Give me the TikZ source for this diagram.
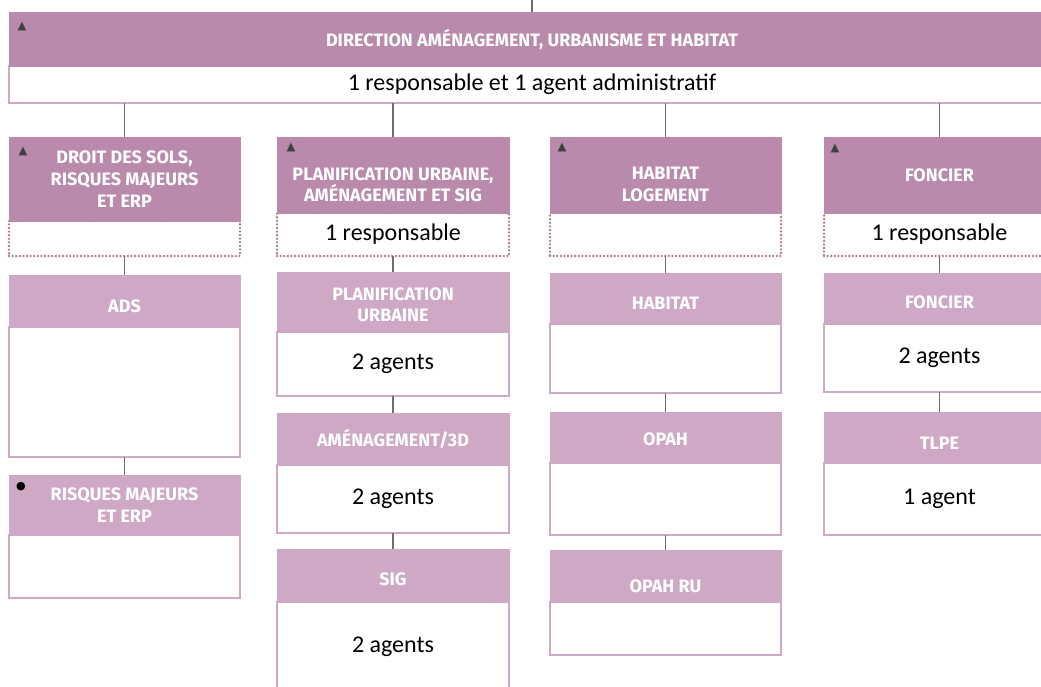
\documentclass[tikz,border=0pt]{standalone}
\usepackage{fontspec}
\setmainfont{Carlito}
\newfontfamily\headfont{Fira Sans}
\newfontfamily\symfont{DejaVu Sans}
\usetikzlibrary{positioning}
\definecolor{hdark}{HTML}{B98AAB}
\definecolor{hlight}{HTML}{CEA8C4}
\definecolor{linkgray}{HTML}{6E6E6E}
\tikzset{
    headbox/.style={rectangle, fill=hdark, draw=hdark, line width=1pt, minimum width=231pt,
        inner sep=0pt, outer sep=0pt, text=white, align=center,
        font=\headfont\bfseries\fontsize{18}{21.7}\selectfont},
    subhead/.style={headbox, fill=hlight, draw=hlight},
    drop/.style={execute at begin node={\rule{0pt}{#1}}},
    bodybox/.style={rectangle, fill=white, draw=hlight, line width=2.5pt, minimum width=231pt,
        inner sep=0pt, outer sep=0pt, anchor=north west,
        font=\fontsize{24}{28}\selectfont},
    dotbox/.style={bodybox, draw=hdark!90!black, line width=2.6pt, dash pattern=on 0pt off 3.6pt, line cap=round},
    link/.style={draw=linkgray, line width=1.5pt},
    tri/.style={inner sep=0pt, text=black!75, font=\symfont\fontsize{11.5}{11.5}\selectfont}
}
\begin{document}
\begin{tikzpicture}[x=1pt, y=-1pt]
    \useasboundingbox (0,0) rectangle (1041,686);
    \clip (0,0) rectangle (1041,686);
    % direction
    \node (dirb) [bodybox, minimum width=1046pt, minimum height=37pt] at (9,66) {1 responsable et 1 agent administratif};
    \node (dir) [headbox, minimum width=1046pt, minimum height=54pt, above=0pt of dirb] {DIRECTION AMÉNAGEMENT, URBANISME ET HABITAT};
    \node (dirtri) [tri] at ([shift={(13,15)}]dir.north west) {▲};
    \coordinate (toptick) at (532,0);
    \draw[link] (dir.north) -- (toptick);
    % services
    \node (solsb) [dotbox, minimum height=35pt] at (9,221) {};
    \node (sols) [headbox, minimum height=84pt, above=0pt of solsb] {DROIT DES SOLS,\\RISQUES MAJEURS\\ET ERP};
    \node (planb) [dotbox, minimum width=232pt, minimum height=43pt] at (277,213) {1 responsable};
    \node (plan) [headbox, minimum width=232pt, minimum height=76pt, above=0pt of planb] {\rule{0pt}{32pt}PLANIFICATION URBAINE,\\AMÉNAGEMENT ET SIG};
    \node (habb) [dotbox, minimum height=43pt] at (550,213) {};
    \node (hab) [headbox, minimum height=76pt, above=0pt of habb] {\rule{0pt}{31pt}HABITAT\\LOGEMENT};
    \node (fonb) [dotbox, minimum height=43pt] at (824,213) {1 responsable};
    \node (fon) [headbox, minimum height=76pt, above=0pt of fonb] {FONCIER};
    \node (solstri) [tri] at ([shift={(14,15)}]sols.north west) {▲};
    \node (plantri) [tri] at ([shift={(14,11)}]plan.north west) {▲};
    \node (habtri) [tri] at ([shift={(12,11)}]hab.north west) {▲};
    \node (fontri) [tri] at ([shift={(11,12)}]fon.north west) {▲};
    % units
    \node (adsb) [bodybox, minimum height=130pt] at (9,327) {};
    \node (ads) [subhead, drop=24pt, minimum height=52pt, above=0pt of adsb] {ADS};
    \node (risqb) [bodybox, minimum height=63pt] at (9,535) {};
    \node (risq) [subhead, minimum height=60pt, above=0pt of risqb] {RISQUES MAJEURS\\ET ERP};
    \node (risqdot) [tri, font=\symfont\fontsize{11}{11}\selectfont, text=black] at ([shift={(12,12)}]risq.north west) {●};
    \node (pub) [bodybox, minimum width=232pt, minimum height=64pt] at (277,332) {2 agents};
    \node (pu) [subhead, minimum width=232pt, minimum height=60pt, above=0pt of pub] {\rule{0pt}{18pt}PLANIFICATION\\URBAINE};
    \node (amgb) [bodybox, minimum width=232pt, minimum height=68pt] at (277,465) {2 agents};
    \node (amg) [subhead, minimum width=232pt, minimum height=52pt, above=0pt of amgb] {AMÉNAGEMENT/3D};
    \node (sigb) [bodybox, minimum width=232pt, minimum height=90pt] at (277,602) {2 agents};
    \node (sig) [subhead, drop=21pt, minimum width=232pt, minimum height=53pt, above=0pt of sigb] {SIG};
    \node (habtb) [bodybox, minimum height=69pt] at (550,324) {};
    \node (habt) [subhead, drop=21pt, minimum height=51pt, above=0pt of habtb] {HABITAT};
    \node (opahb) [bodybox, minimum height=72pt] at (550,463) {};
    \node (opah) [subhead, drop=17pt, minimum height=51pt, above=0pt of opahb] {OPAH};
    \node (opahrub) [bodybox, minimum height=53pt] at (550,602) {};
    \node (opahru) [subhead, drop=34pt, minimum height=52pt, above=0pt of opahrub] {OPAH RU};
    \node (foncb) [bodybox, minimum height=68pt] at (824,324) {2 agents};
    \node (fonc) [subhead, drop=21pt, minimum height=51pt, above=0pt of foncb] {FONCIER};
    \node (tlpeb) [bodybox, minimum height=72pt] at (824,463) {1 agent};
    \node (tlpe) [subhead, drop=23pt, minimum height=51pt, above=0pt of tlpeb] {TLPE};
    % links
    \foreach \s in {sols,plan,hab,fon}
        \draw[link] (dirb.south -| \s.north) -- (\s.north);
    \draw[link] (solsb.south) -- (ads.north);
    \draw[link] (adsb.south) -- (risq.north);
    \draw[link] (planb.south) -- (pu.north);
    \draw[link] (pub.south) -- (amg.north);
    \draw[link] (amgb.south) -- (sig.north);
    \draw[link] (habb.south) -- (habt.north);
    \draw[link] (habtb.south) -- (opah.north);
    \draw[link] (opahb.south) -- (opahru.north);
    \draw[link] (fonb.south) -- (fonc.north);
    \draw[link] (foncb.south) -- (tlpe.north);
\end{tikzpicture}
\end{document}
